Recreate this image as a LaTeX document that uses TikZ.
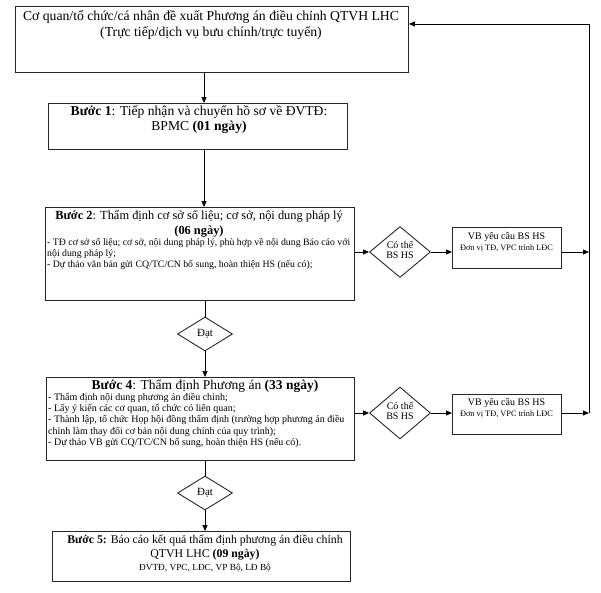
\documentclass[tikz,border=0pt]{standalone}
\usepackage{fontspec}
\setmainfont{Liberation Serif}
\usetikzlibrary{shapes.geometric,arrows.meta}
\newcommand\fsz[2]{\fontsize{#1}{#2}\selectfont}
\begin{document}
\begin{tikzpicture}[x=1pt,y=-1pt,
  box/.style={draw=black!85, line width=0.9pt, rectangle, inner sep=0pt, anchor=north west},
  dia/.style={draw=black!85, line width=0.9pt, diamond, inner sep=0pt},
  conn/.style={draw=black, line width=0.9pt},
  arr/.style={conn, -{Triangle[length=6pt,width=5pt]}},
  txt/.style={inner sep=0pt, align=center},
  lt/.style={inner sep=0pt, align=left, anchor=north west},
]
\useasboundingbox (0,0) rectangle (601,592);
% boxes
\node[box, minimum width=393pt, minimum height=66pt] (top) at (15,6) {};
\node[box, minimum width=299pt, minimum height=46pt] (b1) at (48,103) {};
\node[box, minimum width=309pt, minimum height=93pt] (b2) at (45,207) {};
\node[box, minimum width=308pt, minimum height=83pt] (b4) at (46,377) {};
\node[box, minimum width=298pt, minimum height=50pt] (b5) at (52,531) {};
\node[box, minimum width=109pt, minimum height=41pt] (vb1) at (452,227) {};
\node[box, minimum width=109pt, minimum height=40pt] (vb2) at (452,394) {};
% diamonds
\node[dia, minimum width=61pt, minimum height=51pt] (d1) at (400,252) {};
\node[dia, minimum width=61pt, minimum height=52pt] (d2) at (400,413) {};
\node[dia, minimum width=55pt, minimum height=34pt] (dat1) at (205,334) {};
\node[dia, minimum width=55pt, minimum height=34pt] (dat2) at (205,493) {};
% texts
\node[txt, font=\fsz{13.7}{16}] (ttop) at (211,25) {Cơ quan/tổ chức/cá nhân đề xuất Phương án điều chỉnh QTVH LHC\\(Trực tiếp/dịch vụ bưu chính/trực tuyến)};
\node[txt, font=\fsz{13.6}{15}] (tb1) at (199,120) {\textbf{Bước 1}: Tiếp nhận và chuyển hồ sơ về ĐVTĐ:\\BPMC \textbf{(01 ngày)}};
\node[txt, font=\fsz{12.4}{15}] (tb2) at (199,224) {\textbf{Bước 2}: Thẩm định cơ sở số liệu; cơ sở, nội dung pháp lý\\\textbf{(06 ngày)}};
\node[lt, font=\fsz{9.8}{11.2}] (lb2) at (47,238) {- TĐ cơ sở số liệu; cơ sở, nội dung pháp lý, phù hợp về nội dung Báo cáo với\\nội dung pháp lý;\\- Dự thảo văn bản gửi CQ/TC/CN bổ sung, hoàn thiện HS (nếu có);};
\node[txt, font=\fsz{13.5}{16}] (tb4) at (205,386) {\textbf{Bước 4}: Thẩm định Phương án \textbf{(33 ngày)}};
\node[lt, font=\fsz{10}{11.2}] (lb4) at (48,393) {- Thẩm định nội dung phương án điều chỉnh;\\- Lấy ý kiến các cơ quan, tổ chức có liên quan;\\- Thành lập, tổ chức Họp hội đồng thẩm định (trường hợp phương án điều\\chỉnh làm thay đổi cơ bản nội dung chính của quy trình);\\- Dự thảo VB gửi CQ/TC/CN bổ sung, hoàn thiện HS (nếu có).};
\node[txt, font=\fsz{11.8}{14}] (tb5) at (205,548) {\textbf{Bước 5:} Báo cáo kết quả thẩm định phương án điều chỉnh\\QTVH LHC \textbf{(09 ngày)}};
\node[txt, font=\fsz{9.3}{10}] (sb5) at (205,568) {ĐVTĐ, VPC, LĐC, VP Bộ, LĐ Bộ};
\node[txt, font=\fsz{10}{10}] (td1) at (400,250) {Có thể\\BS HS};
\node[txt, font=\fsz{10}{10}] (td2) at (400,411) {Có thể\\BS HS};
\node[txt, font=\fsz{11}{12}] (tdat1) at (205,334) {Đạt};
\node[txt, font=\fsz{11}{12}] (tdat2) at (205,493) {Đạt};
\node[txt, font=\fsz{10}{12}] (tv1a) at (506.5,237) {VB yêu cầu BS HS};
\node[txt, font=\fsz{8.3}{9}] (tv1b) at (506.5,248) {Đơn vị TĐ, VPC trình LĐC};
\node[txt, font=\fsz{10}{12}] (tv2a) at (506.5,403) {VB yêu cầu BS HS};
\node[txt, font=\fsz{8.3}{9}] (tv2b) at (506.5,414) {Đơn vị TĐ, VPC trình LĐC};
% coordinates
\coordinate (ax) at (204,0);
\coordinate (r0) at (589,24);
\coordinate (r1) at (589,252);
\coordinate (r2) at (589,413);
% connectors
\draw[arr] (top.south -| ax) -- (b1.north -| ax);
\draw[arr] (b1.south -| ax) -- (b2.north -| ax);
\draw[conn] (b2.south -| dat1) -- (dat1.north);
\draw[arr] (dat1.south) -- (b4.north -| dat1);
\draw[conn] (b4.south -| dat2) -- (dat2.north);
\draw[arr] (dat2.south) -- (b5.north -| dat2);
\draw[arr] (b2.east |- d1) -- (d1.west);
\draw[arr] (d1.east) -- (vb1.west |- d1);
\draw[arr] (vb1.east |- r1) -- (r1);
\draw[arr] (b4.east |- d2) -- (d2.west);
\draw[arr] (d2.east) -- (vb2.west |- d2);
\draw[arr] (vb2.east |- r2) -- (r2);
\draw[arr] (r2) -- (r0) -- (top.east |- r0);
\end{tikzpicture}
\end{document}
